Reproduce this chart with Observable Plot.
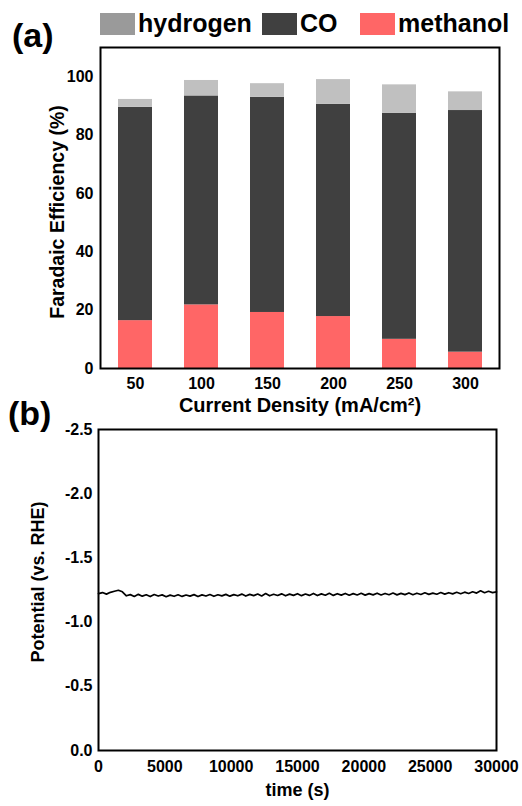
<!DOCTYPE html>
<html>
<head>
<meta charset="utf-8">
<script src="https://cdn.jsdelivr.net/npm/d3@7"></script>
<script src="https://cdn.jsdelivr.net/npm/@observablehq/plot@0.6"></script>
<style>
  body { margin: 0; background: #fff; }
  #root { position: relative; width: 522px; height: 806px; font-family: "Liberation Sans", Arial, sans-serif; font-weight: bold; color: #000; overflow: hidden; background: #fff; }
  .panel { position: absolute; left: 0; z-index: 1; }
  .lab { position: absolute; font-size: 34px; line-height: 1; z-index: 5; }
  .sw { position: absolute; width: 35px; height: 22px; z-index: 5; }
  .lt { position: absolute; font-size: 25px; line-height: 1; z-index: 5; }
</style>
</head>
<body>
<div id="root">
  <div id="pa" class="panel" style="top:40px;"></div>
  <div id="pb" class="panel" style="top:420px;"></div>
  <div class="lab" style="left:12px; top:18px;">(a)</div>
  <div class="lab" style="left:8px; top:396px;">(b)</div>
  <div id="legend"></div>
</div>
<script>
// ---- Panel (a) data ----
const densities = ["50", "100", "150", "200", "250", "300"];
const seriesNames = ["hydrogen", "CO", "methanol"];
const seriesColors = ["#c0c0c0", "#404040", "#ff6666"];
const legendSwatchColors = ["#9a9a9a", "#404040", "#ff6666"];
const methanol = [16.4, 21.8, 19.2, 17.8, 10.0, 5.6];
const co = [73.1, 71.6, 73.7, 72.7, 77.4, 82.8];
const hydrogen = [2.7, 5.3, 4.7, 8.5, 9.8, 6.4];
const feTicks = [0, 20, 40, 60, 80, 100];

// ---- Panel (b) data ----
const timeS = [0,300,600,900,1200,1500,1800,2100,2400,2700,3000,3300,3600,3900,4200,4500,4800,5100,5400,5700,
  6000,6300,6600,6900,7200,7500,7800,8100,8400,8700,9000,9300,9600,9900,10200,10500,10800,11100,11400,11700,
  12000,12300,12600,12900,13200,13500,13800,14100,14400,14700,15000,15300,15600,15900,16200,16500,16800,17100,17400,17700,
  18000,18300,18600,18900,19200,19500,19800,20100,20400,20700,21000,21300,21600,21900,22200,22500,22800,23100,23400,23700,
  24000,24300,24600,24900,25200,25500,25800,26100,26400,26700,27000,27300,27600,27900,28200,28500,28800,29100,29400,29700,30000];
const potential = [
  -1.222,-1.230,-1.218,-1.232,-1.240,-1.248,-1.236,-1.205,-1.214,-1.200,-1.216,-1.202,-1.213,-1.199,-1.215,-1.203,-1.212,-1.198,-1.210,-1.201,
  -1.213,-1.200,-1.211,-1.202,-1.214,-1.199,-1.212,-1.203,-1.215,-1.201,-1.213,-1.204,-1.216,-1.202,-1.214,-1.205,-1.218,-1.203,-1.216,-1.206,
  -1.219,-1.204,-1.222,-1.205,-1.217,-1.207,-1.220,-1.205,-1.218,-1.208,-1.221,-1.206,-1.219,-1.208,-1.223,-1.207,-1.220,-1.209,-1.224,-1.208,
  -1.221,-1.210,-1.223,-1.209,-1.222,-1.211,-1.224,-1.210,-1.222,-1.212,-1.225,-1.211,-1.223,-1.213,-1.226,-1.212,-1.224,-1.214,-1.227,-1.213,
  -1.225,-1.215,-1.228,-1.216,-1.226,-1.217,-1.230,-1.218,-1.229,-1.220,-1.232,-1.221,-1.233,-1.223,-1.236,-1.226,-1.244,-1.229,-1.240,-1.230,-1.236];
const timeTicks = [0, 5000, 10000, 15000, 20000, 25000, 30000];
const potentialTicks = [0, -0.5, -1.0, -1.5, -2.0, -2.5];

// ---- Legend (HTML) ----
const legend = document.getElementById("legend");
const legendPos = [{sx: 100, tx: 138}, {sx: 262, tx: 300}, {sx: 360, tx: 398}];
seriesNames.forEach((name, i) => {
  const sw = document.createElement("div");
  sw.className = "sw";
  sw.style.left = legendPos[i].sx + "px";
  sw.style.top = "13px";
  sw.style.background = legendSwatchColors[i];
  legend.appendChild(sw);
  const t = document.createElement("div");
  t.className = "lt";
  t.style.left = legendPos[i].tx + "px";
  t.style.top = "11px";
  t.textContent = name;
  legend.appendChild(t);
});

// ---- Panel (a) ----
const rows = [];
densities.forEach((d, i) => {
  rows.push({cat: d, series: "methanol", value: methanol[i]});
  rows.push({cat: d, series: "CO", value: co[i]});
  rows.push({cat: d, series: "hydrogen", value: hydrogen[i]});
});

const baseStyle = {fontFamily: "'Liberation Sans', Arial, sans-serif", fontWeight: "bold", fontSize: "16px", color: "#000", background: "transparent", overflow: "visible"};

const chartA = Plot.plot({
  width: 522, height: 380,
  marginLeft: 100, marginRight: 23, marginTop: 7, marginBottom: 52,
  style: baseStyle,
  x: {type: "band", domain: densities, paddingInner: 0.49, paddingOuter: 0.245},
  y: {domain: [0, 110]},
  color: {domain: seriesNames, range: seriesColors},
  marks: [
    Plot.barY(rows, Plot.stackY({x: "cat", y: "value", fill: "series"})),
    Plot.axisY(feTicks, {tickSize: 0, tickPadding: 7, label: null, fontSize: 16}),
    Plot.axisX({tickSize: 0, tickPadding: 9, label: null, fontSize: 16}),
    Plot.frame({stroke: "#000", strokeWidth: 2}),
    Plot.text(["Current Density (mA/cm\u00B2)"], {frameAnchor: "bottom", lineAnchor: "top", dy: 29, fontSize: 20, fontWeight: "bold"}),
    Plot.text(["Faradaic Efficiency (%)"], {frameAnchor: "left", textAnchor: "middle", rotate: -90, dx: -43, dy: 4, fontSize: 19.5, fontWeight: "bold"})
  ]
});
document.getElementById("pa").appendChild(chartA);

// ---- Panel (b) ----
const lineData = timeS.map((t, i) => ({t, v: potential[i]}));
const chartB = Plot.plot({
  width: 522, height: 386,
  marginLeft: 98, marginRight: 26, marginTop: 9, marginBottom: 56,
  style: baseStyle,
  x: {domain: [0, 30000]},
  y: {domain: [0, -2.5]},
  marks: [
    Plot.line(lineData, {x: "t", y: "v", stroke: "#000", strokeWidth: 1.7}),
    Plot.axisY(potentialTicks, {tickSize: 0, tickPadding: 6, label: null, fontSize: 16, tickFormat: d => d.toFixed(1)}),
    Plot.axisX(timeTicks, {tickSize: 0, tickPadding: 10, label: null, fontSize: 16, tickFormat: d => String(d)}),
    Plot.frame({stroke: "#000", strokeWidth: 2}),
    Plot.text(["time (s)"], {frameAnchor: "bottom", lineAnchor: "top", dy: 33, fontSize: 18, fontWeight: "bold"}),
    Plot.text(["Potential (vs. RHE)"], {frameAnchor: "left", textAnchor: "middle", rotate: -90, dx: -60, dy: -8, fontSize: 18, fontWeight: "bold"})
  ]
});
document.getElementById("pb").appendChild(chartB);
</script>
</body>
</html>
